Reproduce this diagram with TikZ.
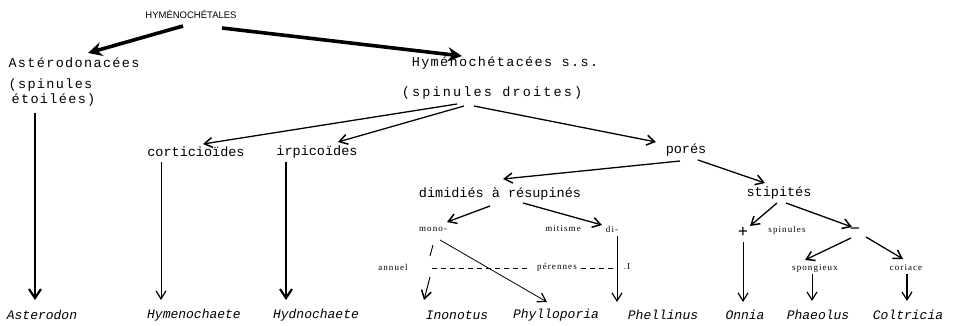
\documentclass[tikz,border=0pt]{standalone}
\usepackage{fontspec}
\setmainfont{Liberation Serif}
\setmonofont{Liberation Mono}
\newfontfamily\headfont{Liberation Sans}
\newfontfamily\smfont[LetterSpace=12]{Liberation Serif}
\newfontfamily\twA[LetterSpace=10]{Liberation Mono}
\newfontfamily\twB[LetterSpace=16]{Liberation Mono}
\usetikzlibrary{arrows.meta,calc}
\tikzset{
  tw/.style={inner sep=1pt, font=\fontsize{13.5}{15}\selectfont\ttfamily},
  twa/.style={inner sep=1pt, font=\fontsize{13.5}{15}\selectfont\twA},
  twb/.style={inner sep=1pt, font=\fontsize{13.5}{15}\selectfont\twB},
  twi/.style={inner sep=1pt, font=\fontsize{13}{15}\selectfont\ttfamily\itshape},
  sm/.style={inner sep=1pt, font=\fontsize{9}{10}\selectfont\smfont},
  sign/.style={inner sep=1pt, font=\fontsize{18}{18}\selectfont\bfseries},
  head/.style={inner sep=1pt, font=\fontsize{9.5}{11}\selectfont\headfont},
  heavy/.style={line width=3.6pt, -{Stealth[length=14pt,width=14pt]}},
  mid/.style={line width=2.2pt, -{Straight Barb[length=9pt,width=12pt,line width=2.2pt]}},
  arr/.style={line width=1.3pt, -{Straight Barb[length=8pt,width=10pt,line width=1.5pt]}},
  thin/.style={line width=0.8pt, -{Straight Barb[length=8pt,width=10pt,line width=1.2pt]}},
  dsh/.style={line width=0.9pt, dash pattern=on 5pt off 4pt},
}
\begin{document}
\begin{tikzpicture}[x=1pt,y=-1pt]
\useasboundingbox (0,0) rectangle (976,326);
% nodes
\node[head] (H) at (191,14) {HYMÉNOCHÉTALES};
\node[twa] (Ast) at (74,63) {Astérodonacées};
\node[twa, align=left] (spet) at (52,93) {(spinules\\\hspace*{3pt}étoilées)};
\node[twa] (Hyme) at (505,63) {Hyménochétacées s.s.};
\node[twb] (spdr) at (492,93) {(spinules droites)};
\node[tw] (cort) at (196,152) {corticioïdes};
\node[tw] (irp) at (317,152) {irpicoïdes};
\node[tw] (pores) at (686,150) {porés};
\node[tw] (dim) at (500,194) {dimidiés à résupinés};
\node[tw] (stip) at (779,193) {stipités};
\node[sm] (mono) at (433,229) {mono-};
\node[sm] (mit) at (563,229) {mitisme};
\node[sm] (di) at (612,229) {di-};
\node[sign] (plus) at (743,232) {+};
\node[sm] (spin) at (787,230) {spinules};
\node[sign] (minus) at (855,231) {\textminus};
\node[sm] (annuel) at (393,267) {annuel};
\node[sm] (per) at (557,267) {pérennes};
\node[sm] (dotI) at (627,267) {.I};
\node[sm] (spong) at (815,268) {spongieux};
\node[sm] (cori) at (906,268) {coriace};
% bottom
\node[twi] (b1) at (42,315) {Asterodon};
\node[twi] (b2) at (194,315) {Hymenochaete};
\node[twi] (b3) at (316,315) {Hydnochaete};
\node[twi] (b4) at (457,315) {Inonotus};
\node[twi] (b5) at (556,315) {Phylloporia};
\node[twi] (b6) at (663,315) {Phellinus};
\node[twi] (b7) at (745,315) {Onnia};
\node[twi] (b8) at (818,315) {Phaeolus};
\node[twi] (b9) at (908,315) {Coltricia};
% connectors
\draw[heavy] ($(H)+(-8,12)$) -- ($(Ast)+(14,-10)$);
\draw[heavy] ($(H)+(31,14)$) -- ($(Hyme)+(-43,-7)$);
\draw[mid] ($(spet)+(-17,20)$) -- ($(b1)+(-7,-15)$);
\draw[arr] ($(spdr)+(-35,11)$) -- ($(cort)+(7,-8)$);
\draw[arr] ($(spdr)+(-28,13)$) -- ($(irp)+(21,-10)$);
\draw[arr] ($(spdr)+(-18,13)$) -- ($(pores)+(-30,-8)$);
\draw[thin] ($(cort)+(-35,10)$) -- ($(b2)+(-33,-15)$);
\draw[mid, line width=1.6pt] ($(irp)+(-31,10)$) -- ($(b3)+(-30,-15)$);
\draw[arr] ($(pores)+(-6,11)$) -- ($(dim)+(3,-15)$);
\draw[arr] ($(pores)+(12,10)$) -- ($(stip)+(-14,-10)$);
\draw[arr] ($(dim)+(-10,12)$) -- ($(mono)+(14,-7)$);
\draw[arr] ($(dim)+(23,9)$) -- ($(di)+(-10,-4)$);
\draw[arr] ($(stip)+(-2,10)$) -- ($(plus)+(7,-6)$);
\draw[arr] ($(stip)+(7,10)$) -- ($(minus)+(-3,-4)$);
\draw[line width=0.9pt] ($(mono)+(0,16)$) -- ($(mono)+(-3,27)$);
\draw[arr, line width=1pt] ($(annuel)+(37,10)$) -- ($(b4)+(-33,-15)$);
\draw[thin] ($(mono)+(7,11)$) -- ($(b5)+(-9,-13)$);
\draw[thin] ($(di)+(5,7)$) -- ($(b6)+(-46,-13)$);
\draw[thin] ($(plus)+(0,10)$) -- ($(b7)+(-2,-13)$);
\draw[arr] ($(minus)+(-4,7)$) -- ($(spong)+(-10,-8)$);
\draw[arr] ($(minus)+(11,6)$) -- ($(cori)+(-3,-9)$);
\draw[thin] ($(spong)+(-3,6)$) -- ($(b8)+(-6,-14)$);
\draw[thin, line width=1.1pt] ($(cori)+(1,6)$) -- ($(b9)+(-1,-14)$);
\draw[dsh] ($(annuel)+(39,1)$) -- ($(per)+(-26,1)$);
\draw[dsh] ($(per)+(24,1)$) -- ($(dotI)+(-10,1)$);
\end{tikzpicture}
\end{document}
